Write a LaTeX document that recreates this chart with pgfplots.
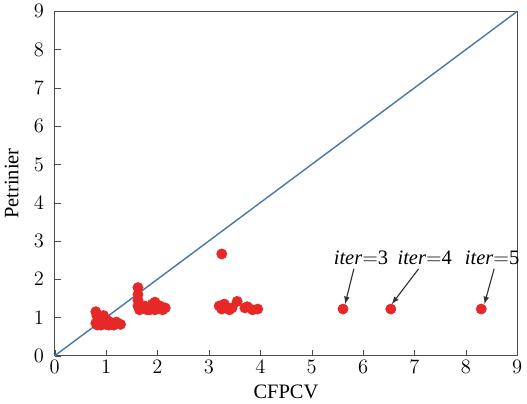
\documentclass[border=0pt]{standalone}
\usepackage{pgfplots}
\pgfplotsset{compat=1.18}
\usepackage{fontspec}
\setmainfont{Liberation Serif}
\definecolor{diag}{RGB}{75,120,165}
\definecolor{ptred}{RGB}{230,40,40}

\begin{document}
\begin{tikzpicture}
\begin{axis}[
    width=325pt, height=242pt,
    scale only axis,
    xmin=0, xmax=9, ymin=0, ymax=9,
    xtick={0,...,9}, ytick={0,...,9},
    tick align=inside,
    xtick pos=bottom, ytick pos=left,
    axis line style={black!70, thick},
    major tick style={black!70},
    xlabel={CFPCV}, ylabel={Petrinier},
    label style={font=\Large},
    tick label style={font=\Large},
    yticklabel style={xshift=-4pt},
    xlabel style={yshift=-1pt},
    ylabel style={yshift=4pt},
    clip=false,
]
\addplot[diag, line width=1pt] coordinates {(0,0) (9,9)};
\addplot[only marks, mark=*, mark size=3.6pt, ptred, mark options={draw=ptred, fill=ptred}] coordinates {
(0.80,1.15) (0.82,1.05) (0.85,0.95) (0.80,0.85) (0.83,0.80) (0.90,0.80)
(0.95,0.85) (0.90,1.00) (1.00,0.95) (1.00,0.82) (1.05,0.90) (1.10,0.85)
(1.15,0.80) (1.20,0.88) (1.28,0.82) (0.88,0.90) (0.95,1.05) (1.05,0.80)
(1.62,1.78) (1.62,1.60) (1.62,1.45) (1.62,1.30) (1.65,1.20) (1.70,1.25)
(1.80,1.20) (1.90,1.25) (1.90,1.35) (1.95,1.40) (2.00,1.30) (2.05,1.25)
(2.10,1.20) (2.15,1.25) (1.75,1.30) (1.85,1.20) (1.95,1.20) (2.05,1.30)
(3.25,2.66) (3.25,1.22) (3.30,1.35) (3.35,1.25) (3.45,1.25) (3.55,1.42)
(3.70,1.25) (3.75,1.28) (3.85,1.20) (3.95,1.22) (3.20,1.30) (3.40,1.20)
(5.61,1.22) (6.54,1.22) (8.30,1.22)
};
\node[font=\Large] at (axis cs:5.96,2.55) {\textit{iter}$=$3};
\node[font=\Large] at (axis cs:7.20,2.55) {\textit{iter}$=$4};
\node[font=\Large] at (axis cs:8.51,2.55) {\textit{iter}$=$5};
\draw[-latex, black!80, thick] (axis cs:5.82,2.27) -- (axis cs:5.65,1.35);
\draw[-latex, black!80, thick] (axis cs:7.08,2.27) -- (axis cs:6.56,1.35);
\draw[-latex, black!80, thick] (axis cs:8.55,2.27) -- (axis cs:8.36,1.35);
\end{axis}
\end{tikzpicture}
\end{document}
